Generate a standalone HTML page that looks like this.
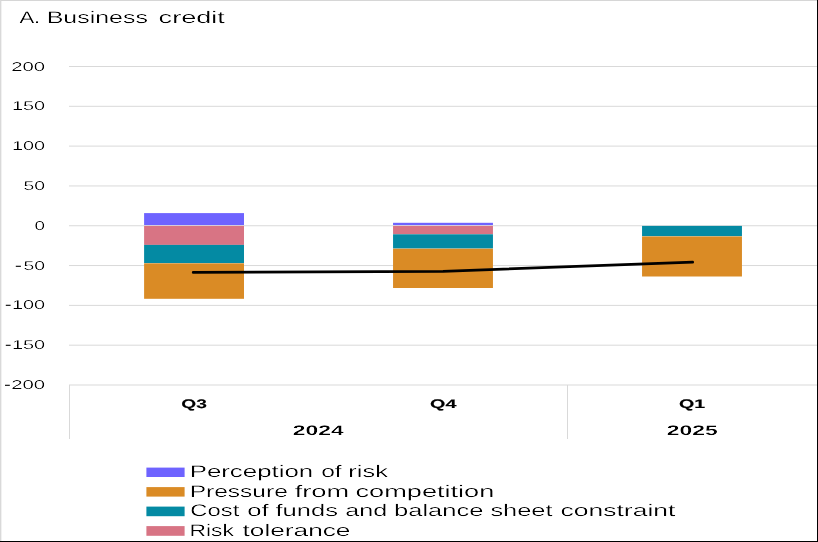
<!DOCTYPE html>
<html>
<head>
<meta charset="utf-8">
<title>A. Business credit</title>
<style>
html,body{margin:0;padding:0;background:#fff;}
body{width:818px;height:542px;overflow:hidden;font-family:"Liberation Sans",sans-serif;}
svg{display:block;}
text{font-family:"Liberation Sans",sans-serif;fill:#000;text-rendering:geometricPrecision;}
</style>
</head>
<body>
<svg width="818" height="542" viewBox="0 0 818 542">
<defs>
<filter id="thin" x="-5%" y="-30%" width="110%" height="160%">
  <feOffset in="SourceGraphic" dx="0.4" dy="0" result="a"/>
  <feOffset in="SourceGraphic" dx="-0.4" dy="0" result="b"/>
  <feComposite in="a" in2="b" operator="in"/>
</filter>
<filter id="thinL" x="-5%" y="-30%" width="110%" height="160%">
  <feOffset in="SourceGraphic" dx="0.4" dy="0" result="a"/>
  <feOffset in="SourceGraphic" dx="-0.4" dy="0" result="b"/>
  <feComposite in="a" in2="b" operator="in" result="h"/>
  <feOffset in="h" dx="0" dy="0.15" result="c"/>
  <feOffset in="h" dx="0" dy="-0.15" result="d"/>
  <feComposite in="c" in2="d" operator="in"/>
</filter>
<filter id="thinb" x="-5%" y="-30%" width="110%" height="160%">
  <feOffset in="SourceGraphic" dx="0.25" dy="0" result="a"/>
  <feOffset in="SourceGraphic" dx="-0.25" dy="0" result="b"/>
  <feComposite in="a" in2="b" operator="in"/>
</filter>
<filter id="thinq" x="-5%" y="-30%" width="110%" height="160%">
  <feOffset in="SourceGraphic" dx="0" dy="0"/>
</filter>
</defs>
<rect x="0" y="0" width="818" height="542" fill="#ffffff"/>

<!-- gridlines -->
<g stroke="#d9d9d9" stroke-width="1">
<line x1="69" x2="817" y1="66.50" y2="66.50"/>
<line x1="69" x2="817" y1="106.31" y2="106.31"/>
<line x1="69" x2="817" y1="146.12" y2="146.12"/>
<line x1="69" x2="817" y1="185.94" y2="185.94"/>
<line x1="69" x2="817" y1="225.75" y2="225.75"/>
<line x1="69" x2="817" y1="265.56" y2="265.56"/>
<line x1="69" x2="817" y1="305.38" y2="305.38"/>
<line x1="69" x2="817" y1="345.19" y2="345.19"/>
<line x1="69" x2="817" y1="385.00" y2="385.00"/>
</g>
<g stroke="#d9d9d9" stroke-width="1" shape-rendering="crispEdges">
<line x1="69.5" x2="69.5" y1="385" y2="439"/>
<line x1="567.5" x2="567.5" y1="385" y2="439"/>
</g>

<!-- bars -->
<g>
<!-- Q3 -->
<rect x="144.1" y="213.1" width="99.9" height="12.0" fill="#6e63ff"/>
<rect x="144.1" y="225.9" width="99.9" height="19.0" fill="#d87484"/>
<rect x="144.1" y="244.9" width="99.9" height="18.2" fill="#048aa3"/>
<rect x="144.1" y="263.3" width="99.9" height="35.5" fill="#da8b25"/>
<!-- Q4 -->
<rect x="393.05" y="222.8" width="99.9" height="2.3" fill="#6e63ff"/>
<rect x="393.05" y="225.9" width="99.9" height="8.4" fill="#d87484"/>
<rect x="393.05" y="234.3" width="99.9" height="14.2" fill="#048aa3"/>
<rect x="393.05" y="248.7" width="99.9" height="39.3" fill="#da8b25"/>
<!-- Q1 -->
<rect x="642.05" y="225.9" width="99.9" height="10.3" fill="#048aa3"/>
<rect x="642.05" y="236.4" width="99.9" height="40.1" fill="#da8b25"/>
</g>

<!-- line -->
<polyline points="193.2,272.4 443,271.3 692.7,262.2" fill="none" stroke="#000" stroke-width="2.7" stroke-linecap="round" stroke-linejoin="round"/>

<!-- minus signs of y labels -->
<g stroke="#000" stroke-width="1.1">
<line x1="15.8" x2="20.9" y1="266.3" y2="266.3"/>
<line x1="5.8" x2="10.6" y1="305.3" y2="305.3"/>
<line x1="5.8" x2="10.6" y1="345.3" y2="345.3"/>
<line x1="5" x2="9.8" y1="385.3" y2="385.3"/>
</g>

<!-- legend swatches -->
<g>
<rect x="146.4" y="467.6" width="38.2" height="9.4" fill="#6e63ff"/>
<rect x="146.4" y="487.1" width="38.2" height="9.5" fill="#da8b25"/>
<rect x="146.4" y="506.6" width="38.2" height="9.6" fill="#048aa3"/>
<rect x="146.4" y="526.1" width="38.2" height="9.7" fill="#d87484"/>
</g>

<!-- all text (title, legend, axis labels) -->
<text x="19.40" y="23" font-size="16.8" textLength="20.87" lengthAdjust="spacingAndGlyphs" filter="url(#thin)">A.</text>
<text x="46.71" y="23" font-size="16.8" textLength="101.17" lengthAdjust="spacingAndGlyphs" filter="url(#thin)">Business</text>
<text x="158.60" y="23" font-size="16.8" textLength="66.25" lengthAdjust="spacingAndGlyphs" filter="url(#thin)">credit</text>
<text x="189.66" y="477" font-size="16.8" textLength="123.55" lengthAdjust="spacingAndGlyphs" filter="url(#thin)">Perception</text>
<text x="321.20" y="477" font-size="16.8" textLength="20.51" lengthAdjust="spacingAndGlyphs" filter="url(#thin)">of</text>
<text x="348.39" y="477" font-size="16.8" textLength="39.49" lengthAdjust="spacingAndGlyphs" filter="url(#thin)">risk</text>
<text x="189.74" y="497" font-size="16.8" textLength="98.05" lengthAdjust="spacingAndGlyphs" filter="url(#thin)">Pressure</text>
<text x="294.70" y="497" font-size="16.8" textLength="54.49" lengthAdjust="spacingAndGlyphs" filter="url(#thin)">from</text>
<text x="355.50" y="497" font-size="16.8" textLength="138.84" lengthAdjust="spacingAndGlyphs" filter="url(#thin)">competition</text>
<text x="190.30" y="516" font-size="16.8" textLength="49.02" lengthAdjust="spacingAndGlyphs" filter="url(#thin)">Cost</text>
<text x="247.20" y="516" font-size="16.8" textLength="21.38" lengthAdjust="spacingAndGlyphs" filter="url(#thin)">of</text>
<text x="275.50" y="516" font-size="16.8" textLength="62.49" lengthAdjust="spacingAndGlyphs" filter="url(#thin)">funds</text>
<text x="345.20" y="516" font-size="16.8" textLength="42.00" lengthAdjust="spacingAndGlyphs" filter="url(#thin)">and</text>
<text x="394.08" y="516" font-size="16.8" textLength="89.33" lengthAdjust="spacingAndGlyphs" filter="url(#thin)">balance</text>
<text x="490.40" y="516" font-size="16.8" textLength="62.19" lengthAdjust="spacingAndGlyphs" filter="url(#thin)">sheet</text>
<text x="560.50" y="516" font-size="16.8" textLength="114.97" lengthAdjust="spacingAndGlyphs" filter="url(#thin)">constraint</text>
<text x="189.44" y="536" font-size="16.8" textLength="44.43" lengthAdjust="spacingAndGlyphs" filter="url(#thin)">Risk</text>
<text x="242.60" y="536" font-size="16.8" textLength="107.82" lengthAdjust="spacingAndGlyphs" filter="url(#thin)">tolerance</text>
<text x="11.20" y="71" font-size="12.8" textLength="33.89" lengthAdjust="spacingAndGlyphs" filter="url(#thin)">200</text>
<text x="11.90" y="110" font-size="12.8" textLength="33.18" lengthAdjust="spacingAndGlyphs" filter="url(#thin)">150</text>
<text x="11.90" y="150" font-size="12.8" textLength="33.18" lengthAdjust="spacingAndGlyphs" filter="url(#thin)">100</text>
<text x="23.50" y="190" font-size="12.8" textLength="21.58" lengthAdjust="spacingAndGlyphs" filter="url(#thin)">50</text>
<text x="34.60" y="230" font-size="12.8" textLength="10.47" lengthAdjust="spacingAndGlyphs" filter="url(#thin)">0</text>
<text x="23.50" y="270" font-size="12.8" textLength="21.58" lengthAdjust="spacingAndGlyphs" filter="url(#thin)">50</text>
<text x="11.90" y="309" font-size="12.8" textLength="33.18" lengthAdjust="spacingAndGlyphs" filter="url(#thin)">100</text>
<text x="11.90" y="349" font-size="12.8" textLength="33.18" lengthAdjust="spacingAndGlyphs" filter="url(#thin)">150</text>
<text x="11.20" y="389" font-size="12.8" textLength="33.89" lengthAdjust="spacingAndGlyphs" filter="url(#thin)">200</text>
<text x="181.30" y="408" font-size="12.4" font-weight="bold" textLength="25.53" lengthAdjust="spacingAndGlyphs" filter="url(#thinq)" stroke="#000" stroke-width="0.15">Q3</text>
<text x="430.10" y="408" font-size="12.4" font-weight="bold" textLength="26.33" lengthAdjust="spacingAndGlyphs" filter="url(#thinq)" stroke="#000" stroke-width="0.15">Q4</text>
<text x="678.90" y="408" font-size="12.4" font-weight="bold" textLength="26.23" lengthAdjust="spacingAndGlyphs" filter="url(#thinq)" stroke="#000" stroke-width="0.15">Q1</text>
<text x="292.85" y="435" font-size="13.8" font-weight="bold" textLength="50.86" lengthAdjust="spacingAndGlyphs" filter="url(#thinb)">2024</text>
<text x="666.85" y="435" font-size="13.8" font-weight="bold" textLength="50.86" lengthAdjust="spacingAndGlyphs" filter="url(#thinb)">2025</text>

<!-- frame -->
<g shape-rendering="crispEdges">
<rect x="0" y="0" width="818" height="1" fill="#d6d6d6"/>
<rect x="0" y="0" width="1" height="542" fill="#d9d9d9"/>
<rect x="1" y="1" width="1" height="540" fill="#f1f1f1"/>
<rect x="817" y="0" width="1" height="542" fill="#000"/>
<rect x="0" y="541" width="818" height="1" fill="#000"/>
</g>
</svg>
</body>
</html>
